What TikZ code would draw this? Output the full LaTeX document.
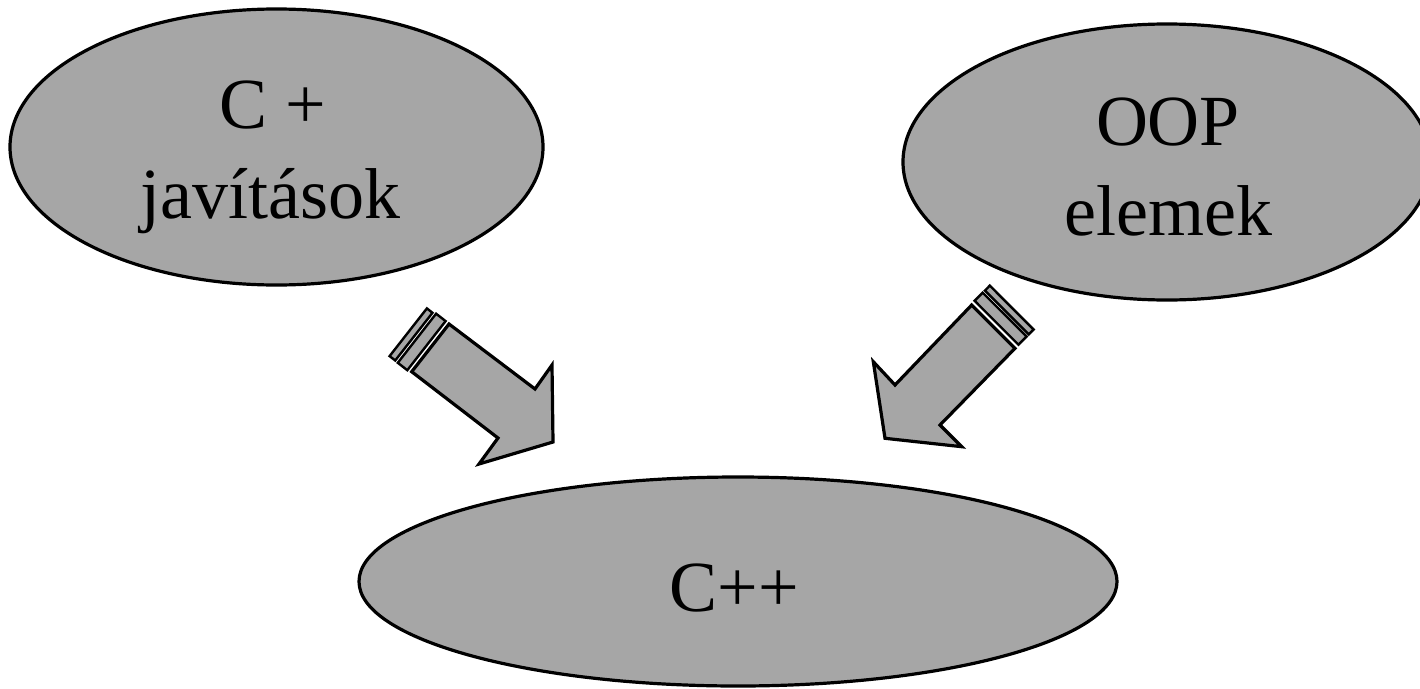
\documentclass[tikz,border=0pt]{standalone}
\usepackage{fontspec}
\setmainfont{Liberation Serif}
\usetikzlibrary{shapes.geometric}
\definecolor{blobgray}{RGB}{166,166,166}
\tikzset{
  blob/.style={ellipse, draw=black, fill=blobgray, line width=3.2pt, inner sep=0pt},
  lbl/.style={anchor=base, inner sep=0pt, font=\fontsize{72}{90}\selectfont},
  blockarrow/.style={draw=black, fill=blobgray, line width=3.2pt, line join=miter},
  band/.style={draw=black, fill=blobgray, line width=2.4pt, line join=miter}
}
\begin{document}
\begin{tikzpicture}[x=1pt,y=-1pt]
\useasboundingbox (0,0) rectangle (1420,688);
\clip (0,0) rectangle (1420,688);
% ellipses
\node[blob, minimum width=533pt, minimum height=276pt] (e1) at (276.5,147) {};
\node[blob, minimum width=528pt, minimum height=276pt] (e2) at (1167,162) {};
\node[blob, minimum width=758pt, minimum height=209pt] (e3) at (738,581.5) {};
% labels
\node[lbl] (t1a) at (273,128) {C +};
\node[lbl] (t1b) at (270,218) {javítások};
\node[lbl] (t2a) at (1168,145) {OOP};
\node[lbl] (t2b) at (1168,235) {elemek};
\node[lbl] (t3) at (734,611) {C++};
% arrow 1 (left, pointing down-right)
\draw[blockarrow] (449,324) -- (535,389) -- (552,365) -- (553,442) -- (479,464) -- (498,438) -- (411.7,371.7) -- cycle;
\draw[band] (445.6,321.1) -- (407.3,370.2) -- (397.8,362.8) -- (436.1,313.7) -- cycle;
\draw[band] (432.5,312.8) -- (395.2,360.5) -- (389.6,356.1) -- (426.9,308.4) -- cycle;
% arrow 2 (right, pointing down-left)
\draw[blockarrow] (971.7,305) -- (1015,348.3) -- (940,425) -- (961.7,446.7) -- (885,438.3) -- (873.3,361.7) -- (895,385) -- cycle;
\draw[band] (974.6,300.8) -- (1018.4,344.7) -- (1026.6,336.5) -- (982.7,292.7) -- cycle;
\draw[band] (984.9,290.6) -- (1028.7,334.4) -- (1033.6,329.5) -- (989.8,285.6) -- cycle;
\end{tikzpicture}
\end{document}
